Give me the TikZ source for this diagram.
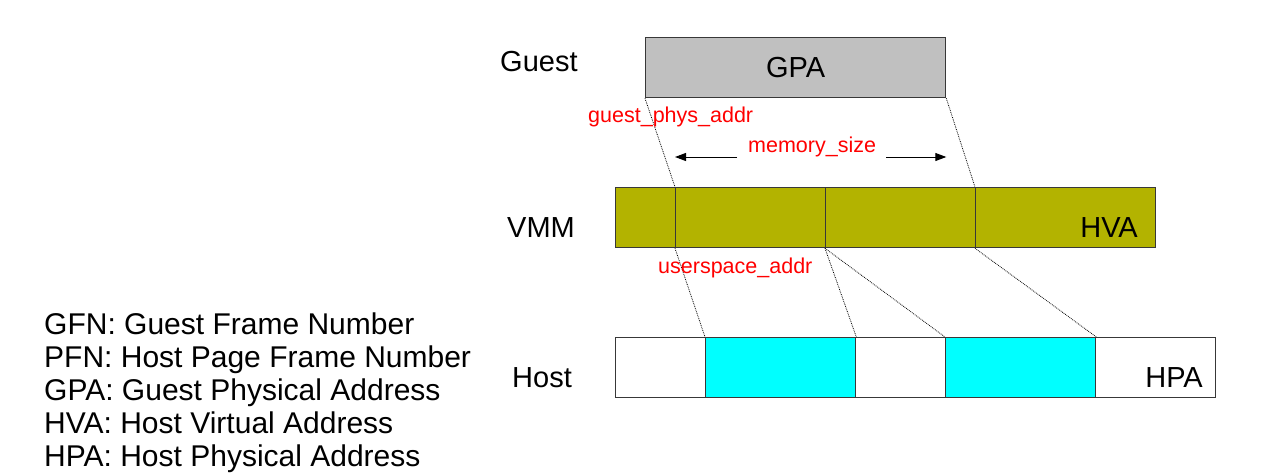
\documentclass[tikz,border=0pt]{standalone}
\usepackage{fontspec}
\setmainfont{Liberation Sans}
\usetikzlibrary{arrows.meta}
\definecolor{gpagray}{HTML}{C0C0C0}
\definecolor{hvaolive}{HTML}{B3B300}
\definecolor{hpacyan}{HTML}{00FFFF}
\definecolor{boxline}{HTML}{383838}

\begin{document}
\begin{tikzpicture}[x=1pt, y=-1pt,
    cell/.style={draw=boxline, line width=1.3pt, rectangle, inner sep=0pt,
                 minimum height=60pt, anchor=north west},
    bigtext/.style={font=\fontsize{29}{33}\selectfont, inner sep=0pt},
    legtext/.style={font=\fontsize{30}{33}\selectfont, inner sep=0pt, anchor=base west},
    redtext/.style={font=\fontsize{21.5}{24}\selectfont, text=red, inner sep=0pt},
    maplink/.style={densely dotted, line width=0.8pt},
    sizearrow/.style={-{Triangle[length=11pt,width=8pt]}, line width=1pt}]
    \useasboundingbox (0,0) rectangle (1268,474);

    % Guest
    \node[cell, fill=gpagray, minimum width=300pt, bigtext] (gpa) at (645,37) {GPA};

    % VMM
    \node[cell, fill=hvaolive, minimum width=60pt] (v0) at (615,187) {};
    \node[cell, fill=hvaolive, minimum width=150pt] (v1) at (675,187) {};
    \node[cell, fill=hvaolive, minimum width=150pt] (v2) at (825,187) {};
    \node[cell, fill=hvaolive, minimum width=180pt] (v3) at (975,187) {};
    \node[bigtext, anchor=base east] (hva) at (1138,237) {HVA};

    % Host
    \node[cell, fill=white, minimum width=90pt] (h0) at (615,337) {};
    \node[cell, fill=hpacyan, minimum width=150pt] (h1) at (705,337) {};
    \node[cell, fill=white, minimum width=90pt] (h2) at (855,337) {};
    \node[cell, fill=hpacyan, minimum width=150pt] (h3) at (945,337) {};
    \node[cell, fill=white, minimum width=120pt] (h4) at (1095,337) {};
    \node[bigtext, anchor=base east] (hpa) at (1203,387) {HPA};

    % Level names
    \node[bigtext, anchor=base west] (guest) at (500,71) {Guest};
    \node[bigtext, anchor=base west] (vmm) at (507,237) {VMM};
    \node[bigtext, anchor=base west] (host) at (512,387) {Host};

    % Mappings
    \draw[maplink] (gpa.south west) -- (v1.north west);
    \draw[maplink] (gpa.south east) -- (v3.north west);
    \draw[maplink] (v1.south west) -- (h1.north west);
    \draw[maplink] (v2.south west) -- (h1.north east);
    \draw[maplink] (v2.south west) -- (h3.north west);
    \draw[maplink] (v3.south west) -- (h3.north east);

    % Red labels
    \node[redtext, anchor=base west] (gpaddr) at (588,122) {guest\_phys\_addr};
    \node[redtext, anchor=base west] (memsize) at (748,152) {memory\_size};
    \node[redtext, anchor=base west] (uaddr) at (658,273) {userspace\_addr};

    % memory_size arrows
    \coordinate (msleft) at (737,157);
    \coordinate (msright) at (886,157);
    \draw[sizearrow] (msleft) -- (msleft -| v1.west);
    \draw[sizearrow] (msright) -- (msright -| gpa.east);

    % Legend
    \node[legtext] (leg1) at (44,334) {GFN: Guest Frame Number};
    \node[legtext] (leg2) at (44,367) {PFN: Host Page Frame Number};
    \node[legtext] (leg3) at (44,400) {GPA: Guest Physical Address};
    \node[legtext] (leg4) at (44,433) {HVA: Host Virtual Address};
    \node[legtext] (leg5) at (44,466) {HPA: Host Physical Address};
\end{tikzpicture}
\end{document}
